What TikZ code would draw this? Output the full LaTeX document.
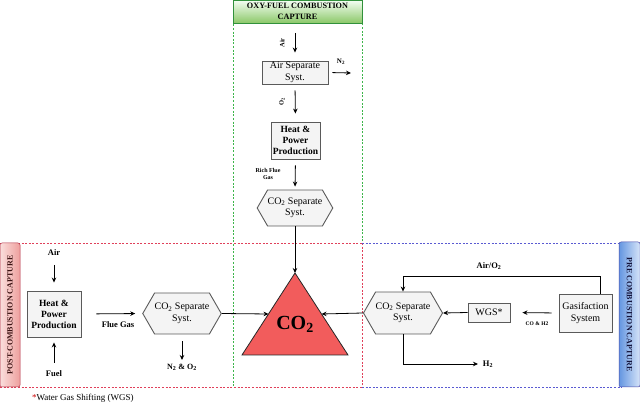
\documentclass[tikz,border=0pt]{standalone}
\usepackage{fontspec}
\setmainfont{Liberation Serif}
\usetikzlibrary{shapes.symbols,arrows.meta}
\definecolor{boxfill}{HTML}{F4F4F4}
\definecolor{boxdraw}{HTML}{5A5A5A}
\definecolor{trired}{HTML}{F25C5C}
\definecolor{framegreen}{HTML}{3DB54A}
\definecolor{framered}{HTML}{E0405A}
\definecolor{frameblue}{HTML}{5A5AD2}
\tikzset{
  procbox/.style={draw=boxdraw, fill=boxfill, line width=0.9pt, inner sep=0pt, align=center, font=\fontsize{10}{11.5}\selectfont},
  hpbox/.style={procbox, font=\fontsize{9.5}{11}\selectfont\bfseries},
  hexbox/.style={draw=boxdraw, fill=boxfill, line width=0.9pt, inner sep=0pt, align=center, shape=signal, signal to=west and east, signal pointer angle=120, font=\fontsize{10}{11.5}\selectfont},
  conn/.style={line width=0.8pt, -{Stealth[length=5pt,width=4.5pt]}},
  plain/.style={line width=0.8pt},
  lbl/.style={font=\fontsize{8.5}{10}\selectfont\bfseries, inner sep=0pt, align=center},
  small/.style={font=\fontsize{6.5}{7.5}\selectfont\bfseries, inner sep=0pt, align=center},
  fdash/.style={line width=0.6pt, dash pattern=on 2pt off 1.6pt},
}
\begin{document}
\begin{tikzpicture}[x=1pt,y=-1pt]
\useasboundingbox (0,0) rectangle (640,411);
% frames
\draw[fdash, framegreen] (233,10) -- (233,387) -- (362,387) -- (362,10);
\draw[fdash, framered] (0,243) -- (362,243) (0,387) -- (362,387) (362,243) -- (362,387);
\draw[fdash, frameblue] (362,243) -- (622,243) (362,387) -- (622,387);
% header labels
\node[draw=framegreen!80!black, line width=0.5pt, top color=green!4, bottom color={rgb,255:red,140;green,200;blue,105}, minimum width=129pt, minimum height=23pt, inner sep=0pt, align=center, font=\fontsize{8.2}{10.5}\selectfont\bfseries] (oxyhead) at (297.5,11.5) {OXY-FUEL COMBUSTION\\CAPTURE};
\node[draw=framered!80!black, line width=0.5pt, left color={rgb,255:red,250;green,222;blue,220}, right color={rgb,255:red,238;green,160;blue,158}, rounded corners=2pt, minimum width=20pt, minimum height=144pt, inner sep=0pt] (posthead) at (10,315) {};
\node[rotate=90, font=\fontsize{8}{9}\selectfont\bfseries, text={rgb,255:red,60;green,20;blue,20}] (posttxt) at (posthead.center) {POST-COMBUSTION CAPTURE};
\node[draw=frameblue!80!black, line width=0.5pt, left color={rgb,255:red,100;green,150;blue,225}, right color={rgb,255:red,214;green,228;blue,248}, rounded corners=2pt, minimum width=21pt, minimum height=145pt, inner sep=0pt] (prehead) at (629.5,314.5) {};
\node[rotate=-90, font=\fontsize{8}{9}\selectfont\bfseries, text={rgb,255:red,20;green,20;blue,60}] (pretxt) at (prehead.center) {PRE COMBUSTION CAPTURE};

% ---------- oxy-fuel ----------
\coordinate (airtop) at (295,33);
\node[procbox, minimum width=66pt, minimum height=23pt] (asep) at (295,72.5) {Air Separate\\Syst.};
\coordinate (n2end) at (351,73);
\node[hpbox, minimum width=49pt, minimum height=37pt] (hpp1) at (295.5,140.5) {Heat \&\\Power\\Production};
\node[hexbox, minimum width=68pt, minimum height=36pt] (hex1) at (295,208) {CO\textsubscript{2} Separate\\Syst.};
\coordinate (apex) at (295,273);
\coordinate (tL) at (268.5,314);
\coordinate (tR) at (321.5,314);
\draw[conn, shorten >=8pt] (airtop) -- (asep.north);
\node[small, rotate=90] (airlbl) at (282,43) {Air};
\draw[conn, shorten <=4pt] (asep.east) -- (n2end);
\node[small, font=\fontsize{7}{8}\selectfont\bfseries] (n2lbl) at (341,62) {N\textsubscript{2}};
\draw[conn, shorten <=6pt, shorten >=8pt] (asep.south) -- (hpp1.north);
\node[small, rotate=90] (o2lbl) at (282,102) {O\textsubscript{2}};
\draw[conn, shorten <=6pt, shorten >=3pt] (hpp1.south) -- (hex1.north);
\node[small, font=\fontsize{6}{7}\selectfont\bfseries] (rfg) at (268,174) {Rich Flue\\Gas};
\draw[conn] (hex1.south) -- (apex);

% ---------- triangle ----------
\draw[draw=black!85, line width=0.8pt, fill=trired] (apex) -- (348,355) -- (242,355) -- cycle;
\node[font=\fontsize{20}{22}\selectfont\bfseries, inner sep=0pt] (co2) at (295,324) {CO\textsubscript{2}};

% ---------- post-combustion ----------
\node[lbl] (airp) at (54,253) {Air};
\coordinate (airstart) at (54,265);
\node[hpbox, minimum width=54pt, minimum height=46pt] (hpp2) at (54,314) {Heat \&\\Power\\Production};
\coordinate (fuelstart) at (54,363);
\node[lbl] (fuel) at (54,374) {Fuel};
\draw[conn, shorten >=8pt] (airstart) -- (hpp2.north);
\draw[conn, shorten >=5pt] (fuelstart) -- (hpp2.south);
\node[hexbox, minimum width=70pt, minimum height=41pt] (hex2) at (182,313.5) {CO\textsubscript{2} Separate\\Syst.};
\draw[conn, shorten <=15pt, shorten >=7pt] (hpp2.east) -- (hex2.west);
\node[lbl] (flue) at (118,325) {Flue Gas};
\draw[plain, -{Stealth[length=5pt,width=4.5pt]}] (hex2.east) -- (tL);
\coordinate (n2o2end) at (182,360);
\draw[conn, shorten <=7pt] (hex2.south) -- (n2o2end);
\node[lbl, font=\fontsize{8}{9}\selectfont\bfseries] (n2o2) at (182,367) {N\textsubscript{2} \& O\textsubscript{2}};

% ---------- pre-combustion ----------
\node[hexbox, minimum width=68pt, minimum height=42pt] (hex3) at (403,313) {CO\textsubscript{2} Separate\\Syst.};
\node[procbox, minimum width=42pt, minimum height=19pt] (wgs) at (489,312.5) {WGS*};
\node[procbox, minimum width=53pt, minimum height=38pt] (gas) at (585.5,313) {Gasifaction\\System};
\draw[conn, shorten <=7pt, shorten >=12pt] (gas.west) -- (wgs.east);
\node[small, font=\fontsize{5.5}{6.5}\selectfont\bfseries] (coh2) at (537,324) {CO \& H2};
\draw[conn] (wgs.west) -- (hex3.east);
\draw[conn] (hex3.west) -- (tR);
\draw[conn] ([xshift=14.5pt]gas.north) |- ([yshift=15pt]hex3.north) -- (hex3.north);
\node[lbl] (airo2) at (489,266) {Air/O\textsubscript{2}};
\coordinate (h2end) at (478,364);
\draw[conn] (hex3.south) |- (h2end);
\node[lbl] (h2) at (488,364) {H\textsubscript{2}};

% footnote
\node[anchor=west, inner sep=0pt, font=\fontsize{9}{10}\selectfont] (foot) at (32,398) {\textcolor{red!80!black}{*}Water Gas Shifting (WGS)};
\end{tikzpicture}
\end{document}
